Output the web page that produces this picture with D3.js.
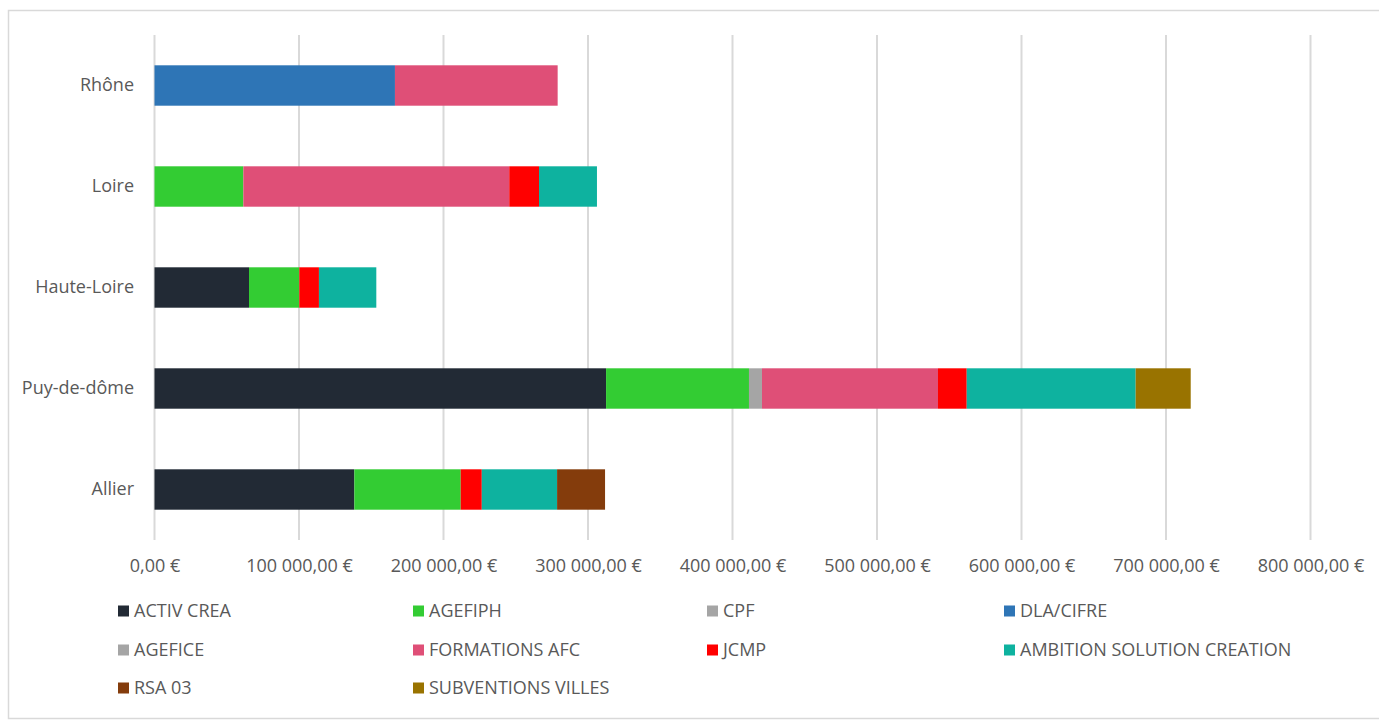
<!DOCTYPE html>
<html>
<head>
<meta charset="utf-8">
<script src="https://cdn.jsdelivr.net/npm/d3@7"></script>
<style>
  body { margin: 0; background: #fff; }
  svg text { font-family: "Open Sans", sans-serif; fill: #595959; }
</style>
</head>
<body>
<div id="chart"></div>
<script>
// categories, Rhône on top
const categories = ["Rhône", "Loire", "Haute-Loire", "Puy-de-dôme", "Allier"];

const seriesNames = ["ACTIV CREA", "AGEFIPH", "CPF", "DLA/CIFRE", "AGEFICE",
    "FORMATIONS AFC", "JCMP", "AMBITION SOLUTION CREATION", "RSA 03", "SUBVENTIONS VILLES"];

const seriesColors = ["#222A35", "#33CC33", "#A5A5A5", "#2E75B6", "#A5A5A5",
    "#DF4F77", "#FF0000", "#0EB29F", "#843C0C", "#997300"];

// values in category order
const activCrea     = [0, 0, 65400, 312500, 138300];
const agefiph       = [0, 61500, 34800, 98900, 73600];
const cpf           = [0, 0, 0, 9000, 0];
const dlaCifre      = [166400, 0, 0, 0, 0];
const agefice       = [0, 0, 0, 0, 0];
const formationsAfc = [112600, 184000, 0, 121800, 0];
const jcmp          = [0, 20600, 13600, 19900, 14600];
const ambition      = [0, 40100, 39700, 116900, 52100];
const rsa03         = [0, 0, 0, 0, 33200];
const subventions   = [0, 0, 0, 38100, 0];

const xTicks = [0, 100000, 200000, 300000, 400000, 500000, 600000, 700000, 800000];

const allSeries = [activCrea, agefiph, cpf, dlaCifre, agefice, formationsAfc, jcmp, ambition, rsa03, subventions];

const table = categories.map(function(c, i) {
    let row = { cat: c };
    seriesNames.forEach(function(s, j) { row[s] = allSeries[j][i]; });
    return row;
});

const width = 1379, height = 720;

const svg = d3.select("#chart")
    .append("svg")
    .attr("width", width)
    .attr("height", height);

// chart border
svg.append("rect")
    .attr("x", 8.5)
    .attr("y", 10.5)
    .attr("width", 1380)
    .attr("height", 708)
    .attr("fill", "none")
    .attr("stroke", "#D9D9D9")
    .attr("stroke-width", 1.5);

const x = d3.scaleLinear()
    .domain([0, 800000])
    .range([154.5, 1310.5]);

const y = d3.scaleBand()
    .domain(categories)
    .range([35, 540])
    .paddingInner(0.6)
    .paddingOuter(0.3);

const locale = d3.formatLocale({
    decimal: ",",
    thousands: "\u00a0",
    grouping: [3],
    currency: ["", "\u00a0€"]
});
const fmt = locale.format("$,.2f");

// gridlines
svg.append("g")
    .selectAll("line")
    .data(xTicks)
    .enter()
    .append("line")
    .attr("x1", d => x(d))
    .attr("x2", d => x(d))
    .attr("y1", 35)
    .attr("y2", 540)
    .attr("stroke", "#D9D9D9")
    .attr("stroke-width", 2);

// stacked bars
const stack = d3.stack().keys(seriesNames);
const stacked = stack(table);

svg.append("g")
    .selectAll("g")
    .data(stacked)
    .enter()
    .append("g")
    .attr("fill", (d, i) => seriesColors[i])
    .selectAll("rect")
    .data(d => d.filter(p => p[1] - p[0] > 0))
    .enter()
    .append("rect")
    .attr("x", d => x(d[0]))
    .attr("width", d => x(d[1]) - x(d[0]))
    .attr("y", d => y(d.data.cat))
    .attr("height", y.bandwidth());

// x axis labels
const xAxis = svg.append("g")
    .attr("transform", "translate(0,540)")
    .call(d3.axisBottom(x).tickValues(xTicks).tickFormat(fmt).tickSize(0).tickPadding(19));
xAxis.select(".domain").remove();
xAxis.selectAll("text")
    .attr("font-size", 18)
    .style("font-family", null);

// y axis labels
const yAxis = svg.append("g")
    .attr("transform", "translate(134,0)")
    .call(d3.axisLeft(y).tickSize(0).tickPadding(0));
yAxis.select(".domain").remove();
yAxis.selectAll("text")
    .attr("font-size", 18)
    .style("font-family", null);

// legend
const legendX = [118, 413, 707, 1004];
const legendY = [611, 650, 688];

const legend = svg.append("g")
    .selectAll("g")
    .data(seriesNames)
    .enter()
    .append("g")
    .attr("transform", (d, i) => "translate(" + legendX[i % 4] + "," + legendY[Math.floor(i / 4)] + ")");

legend.append("rect")
    .attr("x", 0)
    .attr("y", -5.5)
    .attr("width", 11)
    .attr("height", 11)
    .attr("fill", (d, i) => seriesColors[i]);

legend.append("text")
    .attr("x", 16)
    .attr("dy", "0.35em")
    .attr("font-size", 18)
    .text(d => d);
</script>
</body>
</html>
